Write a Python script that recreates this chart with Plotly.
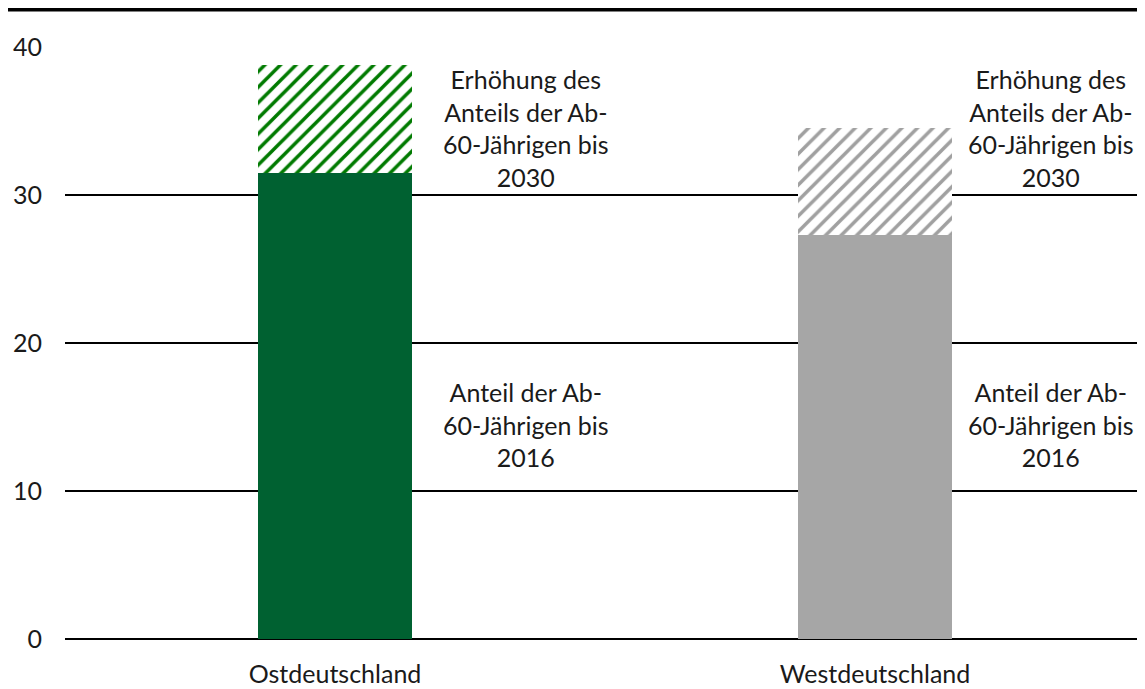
"""Anteil der Ab-60-Jährigen: Ost- und Westdeutschland, 2016 und 2030."""

import plotly.graph_objects as go

regionen = ["Ostdeutschland", "Westdeutschland"]
anteil_2016 = [31.5, 27.3]
erhoehung_2030 = [7.3, 7.2]
y_ticks = [0, 10, 20, 30, 40]

label_2030 = "Erhöhung des<br>Anteils der Ab-<br>60-Jährigen bis<br>2030"
label_2016 = "Anteil der Ab-<br>60-Jährigen bis<br>2016"

FONT = "Lato"
TEXT = "#1a1a1a"
solid_colors = ["#006131", "#a6a6a6"]
hatch_colors = ["#007a00", "#a0a0a0"]

x_pos = list(range(len(regionen)))
bar_width = 0.287

fig = go.Figure()
fig.add_trace(go.Bar(
    x=x_pos,
    y=anteil_2016,
    width=bar_width,
    marker=dict(color=solid_colors, line=dict(width=0)),
    showlegend=False,
    hoverinfo="skip",
))
fig.add_trace(go.Bar(
    x=x_pos,
    y=erhoehung_2030,
    width=bar_width,
    marker=dict(
        color="white",
        line=dict(width=0),
        pattern=dict(shape="/", fgcolor=hatch_colors, fgopacity=1, bgcolor="white",
                     size=11, solidity=0.32),
    ),
    showlegend=False,
    hoverinfo="skip",
))

# Beschriftungen rechts neben den Säulen (beide auf gleicher Höhe)
label_x = [0.354, 1.326]
for i in x_pos:
    fig.add_annotation(
        x=label_x[i], y=34.55, xref="x", yref="y", text=label_2030, showarrow=False,
        align="center", font=dict(family=FONT, size=25, color=TEXT),
    )
    fig.add_annotation(
        x=label_x[i], y=14.5, xref="x", yref="y", text=label_2016, showarrow=False,
        align="center", font=dict(family=FONT, size=25, color=TEXT),
    )

# dicke Linie oben
fig.add_shape(type="line", xref="paper", yref="paper", x0=-0.053, x1=1.008, y0=1.064, y1=1.064,
              line=dict(color="black", width=5))

fig.update_layout(
    barmode="stack",
    width=1145,
    height=689,
    margin=dict(l=57, r=8, t=39, b=58),
    plot_bgcolor="white",
    paper_bgcolor="white",
    font=dict(family=FONT, size=25, color=TEXT),
)
fig.update_xaxes(
    tickvals=x_pos, ticktext=regionen, range=[-0.5, 1.5],
    showgrid=False, zeroline=False, showline=False, ticks="",
    tickfont=dict(size=25), ticklabelstandoff=18, automargin=False,
)
fig.update_yaxes(
    range=[0, 40], tickvals=y_ticks, showgrid=True, gridcolor="black", gridwidth=2,
    zeroline=True, zerolinecolor="black", zerolinewidth=2, showline=False, ticks="",
    tickfont=dict(size=25), ticklabelstandoff=22, automargin=False,
)

fig.write_html("out.html")
